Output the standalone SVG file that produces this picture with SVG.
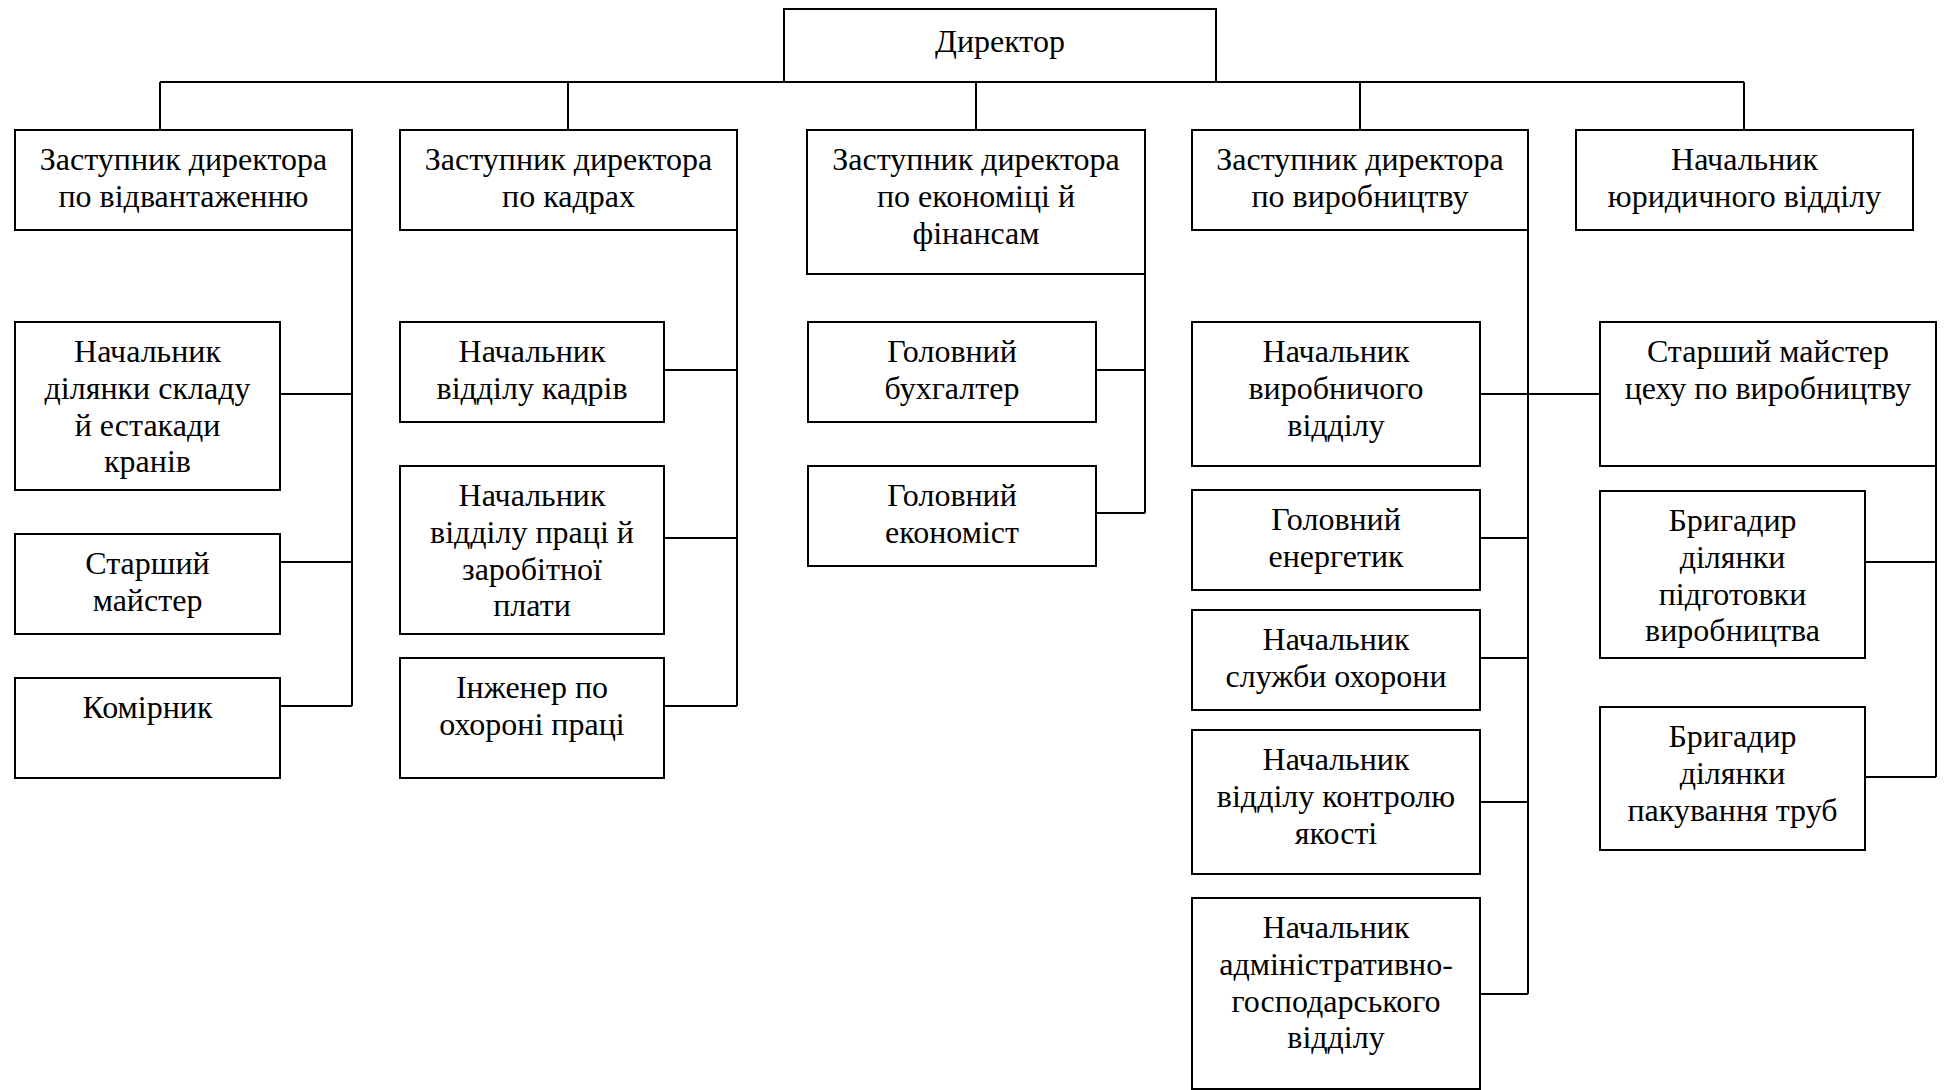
<svg xmlns="http://www.w3.org/2000/svg" width="1944" height="1090" viewBox="0 0 1944 1090">
<style>
.b{fill:#fff;stroke:#000;stroke-width:2}
.c{fill:none;stroke:#000;stroke-width:2}
text{font-family:"Liberation Serif","Times New Roman",serif;font-size:32px;fill:#000;text-anchor:middle}
</style>
<rect width="1944" height="1090" fill="#fff"/>
<g id="connectors">
<path class="c" d="M160,82H1744M160,82V130M568,82V130M976,82V130M1360,82V130M1744,82V130"/>
<path class="c" d="M352,230V706M280,394H352M280,562H352M280,706H352"/>
<path class="c" d="M737,230V706M664,370H737M664,538H737M664,706H737"/>
<path class="c" d="M1145,274V513M1096,370H1145M1096,513H1145"/>
<path class="c" d="M1528,230V994M1480,394H1600M1480,538H1528M1480,658H1528M1480,802H1528M1480,994H1528"/>
<path class="c" d="M1936,466V777M1865,562H1936M1865,777H1936"/>
</g>
<g id="director"><rect class="b" x="784" y="9" width="432" height="73"/><text x="1000" y="52">Директор</text></g>
<g id="dep-shipping"><rect class="b" x="15" y="130" width="337" height="100"/><text x="183.5" y="170">Заступник директора<tspan x="183.5" dy="36.8">по відвантаженню</tspan></text></g>
<g id="dep-hr"><rect class="b" x="400" y="130" width="337" height="100"/><text x="568.5" y="170">Заступник директора<tspan x="568.5" dy="36.8">по кадрах</tspan></text></g>
<g id="dep-econ"><rect class="b" x="807" y="130" width="338" height="144"/><text x="976" y="170">Заступник директора<tspan x="976" dy="36.8">по економіці й</tspan><tspan x="976" dy="36.8">фінансам</tspan></text></g>
<g id="dep-prod"><rect class="b" x="1192" y="130" width="336" height="100"/><text x="1360" y="170">Заступник директора<tspan x="1360" dy="36.8">по виробництву</tspan></text></g>
<g id="head-legal"><rect class="b" x="1576" y="130" width="337" height="100"/><text x="1744.5" y="170">Начальник<tspan x="1744.5" dy="36.8">юридичного відділу</tspan></text></g>
<g id="head-warehouse"><rect class="b" x="15" y="322" width="265" height="168"/><text x="147.5" y="362">Начальник<tspan x="147.5" dy="36.8">ділянки складу</tspan><tspan x="147.5" dy="36.8">й естакади</tspan><tspan x="147.5" dy="36.8">кранів</tspan></text></g>
<g id="senior-master"><rect class="b" x="15" y="534" width="265" height="100"/><text x="147.5" y="574">Старший<tspan x="147.5" dy="36.8">майстер</tspan></text></g>
<g id="storekeeper"><rect class="b" x="15" y="678" width="265" height="100"/><text x="147.5" y="718">Комірник</text></g>
<g id="head-personnel"><rect class="b" x="400" y="322" width="264" height="100"/><text x="532" y="362">Начальник<tspan x="532" dy="36.8">відділу кадрів</tspan></text></g>
<g id="head-labour"><rect class="b" x="400" y="466" width="264" height="168"/><text x="532" y="506">Начальник<tspan x="532" dy="36.8">відділу праці й</tspan><tspan x="532" dy="36.8">заробітної</tspan><tspan x="532" dy="36.8">плати</tspan></text></g>
<g id="safety-engineer"><rect class="b" x="400" y="658" width="264" height="120"/><text x="532" y="698">Інженер по<tspan x="532" dy="36.8">охороні праці</tspan></text></g>
<g id="chief-accountant"><rect class="b" x="808" y="322" width="288" height="100"/><text x="952" y="362">Головний<tspan x="952" dy="36.8">бухгалтер</tspan></text></g>
<g id="chief-economist"><rect class="b" x="808" y="466" width="288" height="100"/><text x="952" y="506">Головний<tspan x="952" dy="36.8">економіст</tspan></text></g>
<g id="head-production"><rect class="b" x="1192" y="322" width="288" height="144"/><text x="1336" y="362">Начальник<tspan x="1336" dy="36.8">виробничого</tspan><tspan x="1336" dy="36.8">відділу</tspan></text></g>
<g id="chief-power"><rect class="b" x="1192" y="490" width="288" height="100"/><text x="1336" y="530">Головний<tspan x="1336" dy="36.8">енергетик</tspan></text></g>
<g id="head-security"><rect class="b" x="1192" y="610" width="288" height="100"/><text x="1336" y="650">Начальник<tspan x="1336" dy="36.8">служби охорони</tspan></text></g>
<g id="head-quality"><rect class="b" x="1192" y="730" width="288" height="144"/><text x="1336" y="770">Начальник<tspan x="1336" dy="36.8">відділу контролю</tspan><tspan x="1336" dy="36.8">якості</tspan></text></g>
<g id="head-admin"><rect class="b" x="1192" y="898" width="288" height="191"/><text x="1336" y="938">Начальник<tspan x="1336" dy="36.8">адміністративно-</tspan><tspan x="1336" dy="36.8">господарського</tspan><tspan x="1336" dy="36.8">відділу</tspan></text></g>
<g id="shop-master"><rect class="b" x="1600" y="322" width="336" height="144"/><text x="1768" y="362">Старший майстер<tspan x="1768" dy="36.8">цеху по виробництву</tspan></text></g>
<g id="foreman-prep"><rect class="b" x="1600" y="491" width="265" height="167"/><text x="1732.5" y="531">Бригадир<tspan x="1732.5" dy="36.8">ділянки</tspan><tspan x="1732.5" dy="36.8">підготовки</tspan><tspan x="1732.5" dy="36.8">виробництва</tspan></text></g>
<g id="foreman-pack"><rect class="b" x="1600" y="707" width="265" height="143"/><text x="1732.5" y="747">Бригадир<tspan x="1732.5" dy="36.8">ділянки</tspan><tspan x="1732.5" dy="36.8">пакування труб</tspan></text></g>
</svg>
